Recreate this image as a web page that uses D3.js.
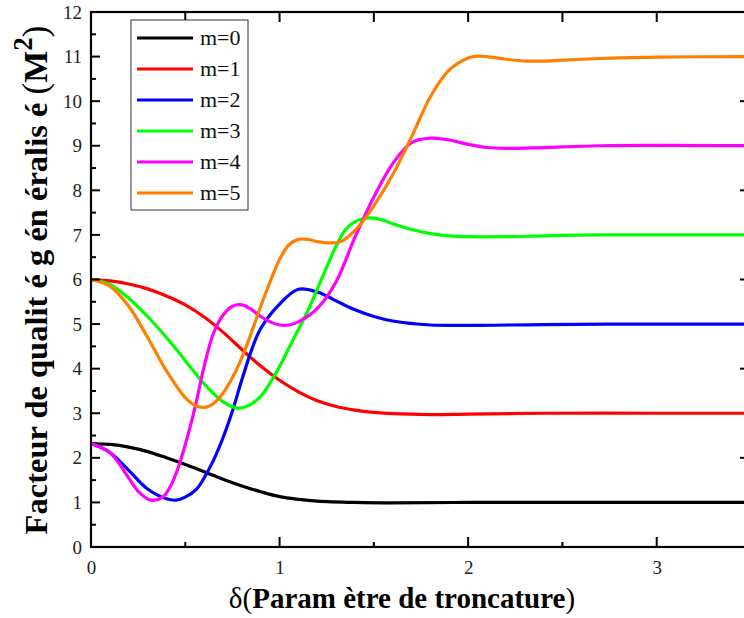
<!DOCTYPE html>
<html>
<head>
<meta charset="utf-8">
<script src="https://cdn.jsdelivr.net/npm/d3@7"></script>
<style>
  html, body { margin: 0; padding: 0; background: #fff; }
  svg { display: block; }
  text { font-family: "Liberation Serif", "Times New Roman", serif; }
</style>
</head>
<body>
<svg id="chart" width="744" height="618"></svg>
<script>
// Truncation parameter samples (delta) and M² for each mode order m
const m0x = [0, 0.1, 0.2, 0.3, 0.4, 0.5, 0.6, 0.7, 0.8, 0.9, 1.0, 1.1, 1.2, 1.4, 1.6, 2.0, 2.5, 3.0, 3.5];
const m0y = [2.32, 2.30, 2.24, 2.14, 2.0, 1.85, 1.69, 1.52, 1.37, 1.24, 1.13, 1.07, 1.03, 1.0, 0.99, 1.0, 1.0, 1.0, 1.0];

const m1x = [0, 0.1, 0.2, 0.3, 0.4, 0.5, 0.6, 0.7, 0.8, 0.9, 1.0, 1.1, 1.2, 1.3, 1.4, 1.5, 1.6, 1.8, 2.0, 2.4, 3.0, 3.5];
const m1y = [6.0, 5.97, 5.9, 5.79, 5.63, 5.43, 5.16, 4.82, 4.43, 4.06, 3.74, 3.48, 3.28, 3.15, 3.07, 3.02, 2.99, 2.97, 2.98, 3.0, 3.0, 3.0];

const m2x = [0, 0.1, 0.2, 0.3, 0.4, 0.45, 0.5, 0.56, 0.6, 0.65, 0.7, 0.75, 0.8, 0.85, 0.9, 1.0, 1.1, 1.2, 1.3, 1.4, 1.5, 1.6, 1.8, 2.0, 2.4, 3.0, 3.5];
const m2y = [2.32, 2.12, 1.72, 1.3, 1.08, 1.05, 1.12, 1.3, 1.55, 1.95, 2.45, 3.05, 3.75, 4.4, 4.9, 5.45, 5.78, 5.72, 5.52, 5.32, 5.17, 5.07, 4.98, 4.97, 4.99, 5.0, 5.0];

const m3x = [0, 0.1, 0.2, 0.3, 0.4, 0.5, 0.6, 0.7, 0.77, 0.83, 0.9, 0.95, 1.0, 1.05, 1.1, 1.15, 1.2, 1.25, 1.3, 1.35, 1.4, 1.47, 1.55, 1.6, 1.7, 1.8, 1.9, 2.0, 2.2, 2.4, 2.7, 3.5];
const m3y = [6.0, 5.89, 5.58, 5.17, 4.7, 4.18, 3.66, 3.26, 3.12, 3.16, 3.38, 3.68, 4.05, 4.47, 4.88, 5.3, 5.78, 6.28, 6.75, 7.12, 7.3, 7.38, 7.33, 7.25, 7.12, 7.03, 6.98, 6.96, 6.96, 6.98, 7.0, 7.0];

const m4x = [0, 0.1, 0.2, 0.25, 0.32, 0.38, 0.42, 0.46, 0.5, 0.55, 0.6, 0.65, 0.7, 0.75, 0.8, 0.85, 0.9, 0.95, 1.0, 1.05, 1.1, 1.2, 1.3, 1.4, 1.5, 1.6, 1.7, 1.8, 1.9, 2.0, 2.1, 2.2, 2.4, 2.7, 3.5];
const m4y = [2.32, 2.12, 1.55, 1.25, 1.05, 1.12, 1.35, 1.75, 2.3, 3.1, 4.05, 4.8, 5.2, 5.4, 5.43, 5.33, 5.17, 5.05, 4.98, 4.98, 5.05, 5.35, 5.95, 6.95, 7.85, 8.6, 9.07, 9.17, 9.13, 9.03, 8.96, 8.94, 8.96, 9.0, 9.0];

const m5x = [0, 0.1, 0.2, 0.3, 0.4, 0.5, 0.55, 0.6, 0.65, 0.7, 0.75, 0.8, 0.85, 0.9, 0.95, 1.0, 1.05, 1.1, 1.15, 1.2, 1.27, 1.33, 1.4, 1.45, 1.5, 1.6, 1.7, 1.8, 1.9, 2.0, 2.05, 2.1, 2.2, 2.3, 2.4, 2.6, 2.8, 3.0, 3.5];
const m5y = [6.0, 5.85, 5.4, 4.7, 3.95, 3.35, 3.18, 3.13, 3.22, 3.45, 3.8, 4.25, 4.8, 5.4, 5.95, 6.45, 6.78, 6.9, 6.9, 6.85, 6.82, 6.86, 7.1, 7.35, 7.65, 8.35, 9.2, 10.1, 10.7, 10.97, 11.01, 11.0, 10.94, 10.9, 10.9, 10.94, 10.97, 10.99, 11.0];

const seriesNames = ["m=0", "m=1", "m=2", "m=3", "m=4", "m=5"];
const seriesColors = ["#000000", "#ff0000", "#0000ff", "#00ff00", "#ff00ff", "#ff8000"];
const seriesX = [m0x, m1x, m2x, m3x, m4x, m5x];
const seriesY = [m0y, m1y, m2y, m3y, m4y, m5y];

const xMajorTicks = [0, 1, 2, 3];
const yMajorTicks = [0, 1, 2, 3, 4, 5, 6, 7, 8, 9, 10, 11, 12];

const svg = d3.select("#chart");
const padL = 91, padT = 12, padR = 751, padB = 547;

const x = d3.scaleLinear().domain([0, 3.5]).range([padL, padR]);
const y = d3.scaleLinear().domain([0, 12]).range([padB, padT]);

// smooth curves through the sampled values
const line = d3.line()
  .x(d => x(d[0]))
  .y(d => y(d[1]))
  .curve(d3.curveCatmullRom.alpha(0.5));

const plot = svg.append("g");
seriesNames.forEach((name, i) => {
  const pts = seriesX[i].map((v, k) => [v, seriesY[i][k]]);
  plot.append("path")
    .datum(pts)
    .attr("fill", "none")
    .attr("stroke", seriesColors[i])
    .attr("stroke-width", 3.2)
    .attr("stroke-linejoin", "round")
    .attr("d", line);
});

// frame axes with inward ticks
const axisColor = "#000";
const bottomAxis = d3.axisBottom(x).tickValues(xMajorTicks).tickSize(0).tickPadding(14).tickFormat(d3.format("d"));
const gB = svg.append("g").attr("transform", `translate(0,${padB})`).call(bottomAxis);
const leftAxis = d3.axisLeft(y).tickValues(yMajorTicks).tickSize(0).tickPadding(9).tickFormat(d3.format("d"));
const gL = svg.append("g").attr("transform", `translate(${padL},0)`).call(leftAxis);
[gB, gL].forEach(g => {
  g.attr("font-family", null);
  g.select(".domain").remove();
  g.selectAll("text").attr("font-size", 19).attr("fill", "#222");
});

const ticks = svg.append("g").attr("stroke", axisColor).attr("stroke-width", 2);
// bottom: major + minor inward
d3.range(0, 3.51, 0.5).forEach(v => {
  const len = Number.isInteger(v) ? 10 : 5;
  ticks.append("line").attr("x1", x(v)).attr("x2", x(v)).attr("y1", padB).attr("y2", padB - len);
});
// top: ticks at every half unit
d3.range(0.5, 3.51, 0.5).forEach(v => {
  ticks.append("line").attr("x1", x(v)).attr("x2", x(v)).attr("y1", padT).attr("y2", padT + 10);
});
// left: major + minor inward
d3.range(0, 12.01, 0.5).forEach(v => {
  const len = Number.isInteger(v) ? 9 : 5;
  ticks.append("line").attr("x1", padL).attr("x2", padL + len).attr("y1", y(v)).attr("y2", y(v));
});
// right: every two units
d3.range(2, 11, 2).forEach(v => {
  ticks.append("line").attr("x1", padR).attr("x2", padR - 11).attr("y1", y(v)).attr("y2", y(v));
});

svg.append("rect")
  .attr("x", padL).attr("y", padT)
  .attr("width", padR - padL).attr("height", padB - padT)
  .attr("fill", "none").attr("stroke", axisColor).attr("stroke-width", 2.2);

// legend
const lg = svg.append("g");
lg.append("rect").attr("x", 131).attr("y", 20).attr("width", 117).attr("height", 190)
  .attr("fill", "#fff").attr("stroke", "#333").attr("stroke-width", 1);
seriesNames.forEach((name, i) => {
  const ly = 38 + i * 31;
  lg.append("line").attr("x1", 137).attr("x2", 193).attr("y1", ly).attr("y2", ly)
    .attr("stroke", seriesColors[i]).attr("stroke-width", 3.2);
  lg.append("text").attr("x", 200).attr("y", ly + 7).attr("font-size", 22).attr("fill", "#111").text(name);
});

// axis titles
const xt = svg.append("text")
  .attr("x", 402).attr("y", 608)
  .attr("text-anchor", "middle")
  .attr("font-size", 29).attr("font-weight", "bold").attr("fill", "#000");
xt.append("tspan").attr("font-weight", "normal").text("δ(");
xt.append("tspan").text("Param ètre de troncature");
xt.append("tspan").attr("font-weight", "normal").text(")");

const yt = svg.append("text")
  .attr("transform", "translate(47,280) rotate(-90)")
  .attr("text-anchor", "middle")
  .attr("font-size", 32.5).attr("font-weight", "bold").attr("fill", "#000");
yt.append("tspan").text("Facteur de qualit é g én éralis é ");
yt.append("tspan").attr("font-weight", "normal").attr("font-size", 35).text("(");
yt.append("tspan").attr("font-size", 34).text("M");
yt.append("tspan").attr("dy", -15).attr("font-size", 27).text("2");
yt.append("tspan").attr("dy", 15).attr("font-weight", "normal").attr("font-size", 35).text(")");
</script>
</body>
</html>
